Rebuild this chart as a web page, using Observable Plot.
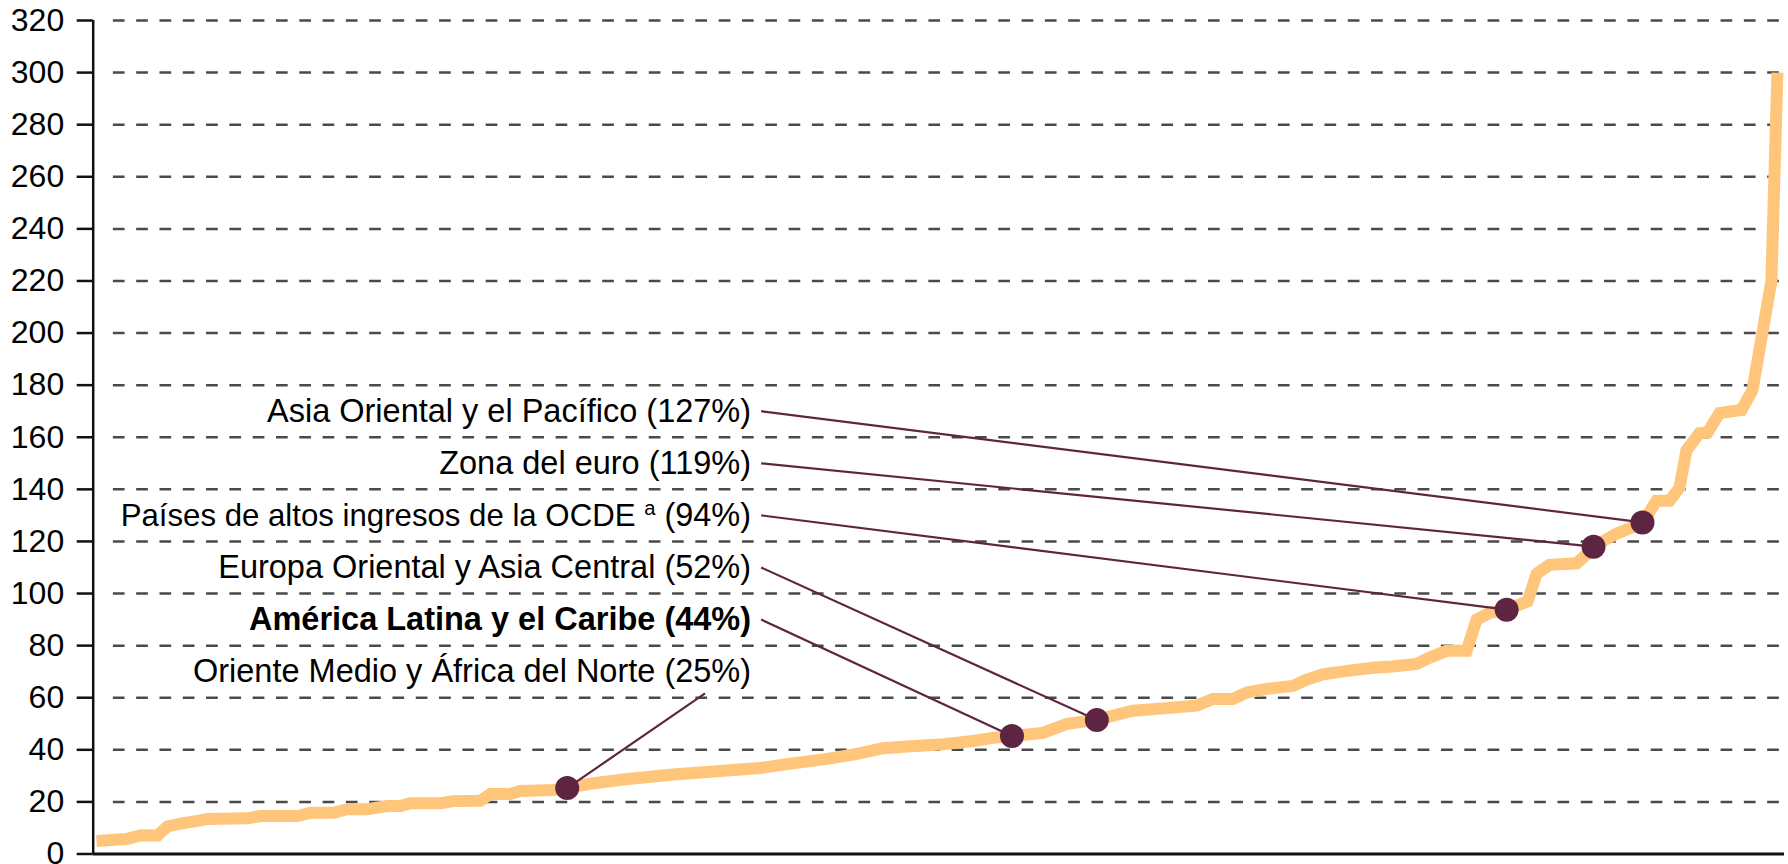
<!DOCTYPE html>
<html><head><meta charset="utf-8">
<script src="https://cdn.jsdelivr.net/npm/d3@7"></script>
<script src="https://cdn.jsdelivr.net/npm/@observablehq/plot@0.6"></script>
<style>
html,body{margin:0;padding:0;background:#fff;}
#chart svg{display:block;}
</style></head><body><div id="chart"></div>
<script>
// Countries sorted by public debt: position along the ranking (0–100) and debt (% of GDP)
const rankPct = [0, 1.84, 2.62, 3.63, 4.22, 4.99, 6.18, 6.60, 8.98, 9.75, 11.95, 12.72, 14.09, 14.92, 16.11, 17.30, 18.07, 18.67, 20.45, 21.22, 22.83, 23.42, 24.61, 25.21, 27.17, 28.00, 29.37, 31.33, 34.30, 37.10, 39.48, 41.08, 43.46, 45.24, 46.79, 48.22, 50.18, 52.14, 53.33, 54.46, 56.30, 57.73, 59.51, 61.65, 63.67, 65.46, 66.41, 67.60, 68.43, 69.62, 71.17, 72.00, 72.95, 74.38, 75.92, 77.11, 78.54, 79.31, 80.32, 81.51, 82.10, 82.88, 83.89, 85.14, 85.67, 86.44, 88.05, 88.64, 89.06, 90.43, 91.97, 92.80, 93.58, 94.17, 94.59, 95.36, 95.84, 96.55, 97.86, 98.51, 99.64, 100];
const debtPct = [5.0, 5.8, 7.2, 7.1, 10.6, 11.7, 12.9, 13.4, 13.7, 14.6, 14.6, 15.8, 15.8, 17.2, 17.2, 18.4, 18.4, 19.5, 19.5, 20.3, 20.4, 23.0, 23.0, 24.2, 24.6, 25.3, 27.0, 28.6, 30.5, 31.9, 33.0, 34.5, 36.5, 38.4, 40.6, 41.3, 42.0, 43.4, 44.6, 45.3, 46.5, 50.0, 51.5, 55.0, 56.0, 57.0, 59.5, 59.5, 62.0, 63.4, 64.5, 67.0, 69.0, 70.3, 71.5, 72.0, 73.0, 75.4, 78.0, 78.0, 90.0, 92.6, 93.8, 97.0, 107.6, 111.0, 111.6, 115.0, 118.0, 123.0, 127.0, 135.6, 135.6, 140.6, 155.0, 161.5, 161.8, 169.3, 170.5, 178.0, 220.0, 300.0];

const yTicks = [0, 20, 40, 60, 80, 100, 120, 140, 160, 180, 200, 220, 240, 260, 280, 300, 320];

const regionNames = ["Asia Oriental y el Pacífico", "Zona del euro", "Países de altos ingresos de la OCDE", "Europa Oriental y Asia Central", "América Latina y el Caribe", "Oriente Medio y África del Norte"];
const regionNotes = ["", "", "a", "", "", ""];
const regionShare = [127, 119, 94, 52, 44, 25];
const regionRank = [91.97, 89.06, 83.89, 59.51, 54.46, 28.0];
const regionLevel = [127.3, 118.0, 93.8, 51.4, 45.3, 25.3];
const regionBold = [false, false, false, false, true, false];

// ---- layout (annotation placement, in data units) ----
const labelRows = [170, 150, 130, 110, 90, 70];
const labelX = 38.94;
const leaderStart = [[39.54, 170], [39.54, 150], [39.54, 130], [39.54, 110], [39.54, 90], [36.2, 61.7]];

const line = rankPct.map((r, i) => ({r, v: debtPct[i]}));
const regions = regionNames.map((name, i) => ({
  name, note: regionNotes[i], pct: " (" + regionShare[i] + "%)",
  label: name + (regionNotes[i] ? " \u2060" + regionNotes[i] + "\u2060" : "") + " (" + regionShare[i] + "%)",
  r: regionRank[i], v: regionLevel[i], row: labelRows[i], bold: regionBold[i],
  lx: leaderStart[i][0], ly: leaderStart[i][1]
}));

const maroon = "#5e2542";
const chart = Plot.plot({
  width: 1788, height: 864,
  marginLeft: 92.7, marginRight: 4, marginTop: 20, marginBottom: 10.5,
  x: {domain: [-0.2, 100.42], axis: null},
  y: {domain: [0, 320], axis: null},
  style: {fontFamily: "'Liberation Sans', Arial, sans-serif", background: "#fff", color: "#000"},
  marks: [
    Plot.ruleY(yTicks.filter(d => d > 0), {x1: () => 1.0, x2: () => 100.42, stroke: "#4a4a4a", strokeWidth: 2.5, strokeDasharray: "11.7,11.6"}),
    Plot.ruleY([0], {x1: () => -0.2, x2: () => 100.42, stroke: "#111", strokeWidth: 3}),
    Plot.ruleX([-0.2], {y1: () => 0, y2: () => 320, stroke: "#111", strokeWidth: 2.5}),
    Plot.axisY({ticks: yTicks, tickSize: 16, tickPadding: 13, fontSize: 32, strokeWidth: 2.5, stroke: "#111", fill: "#000", label: null}),
    Plot.line(line, {x: "r", y: "v", stroke: "#fec57b", strokeWidth: 12, strokeLinejoin: "miter", strokeMiterlimit: 2, strokeLinecap: "butt"}),
    Plot.link(regions, {x1: "lx", y1: "ly", x2: "r", y2: "v", stroke: maroon, strokeWidth: 2.2}),
    Plot.dot(regions, {x: "r", y: "v", r: 12, fill: maroon}),
    Plot.text(regions.filter(d => !d.bold), {x: () => labelX, y: "row", text: "label", textAnchor: "end", fontSize: 32.5, fill: "#000"}),
    Plot.text(regions.filter(d => d.bold), {x: () => labelX, y: "row", text: "label", textAnchor: "end", fontSize: 32.5, fontWeight: "bold", fill: "#000"})
  ]
});
document.getElementById("chart").appendChild(chart);

// Render footnote markers as superscripts
regions.filter(d => d.note).forEach(d => {
  d3.select(chart).selectAll("text").filter(function() { return this.textContent === d.label; }).each(function() {
    const t = d3.select(this);
    t.text(null);
    t.append("tspan").attr("font-size", "96%").text(d.name + " ");
    t.append("tspan").attr("font-size", "62%").attr("dy", "-0.55em").text(d.note);
    t.append("tspan").attr("dy", "0.34em").text(d.pct);
  });
});
</script>
</body></html>
